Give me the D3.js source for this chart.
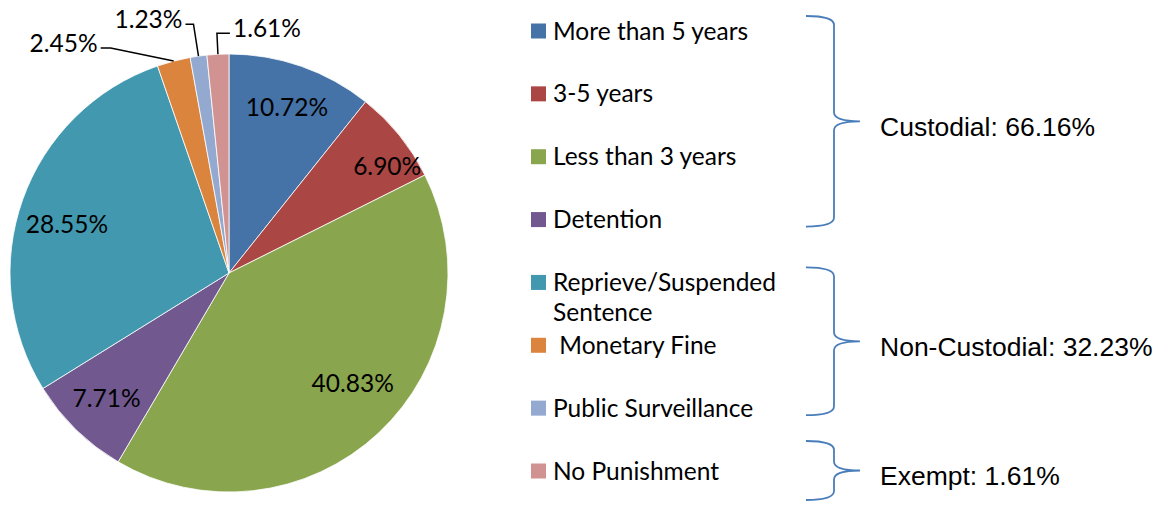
<!DOCTYPE html>
<html>
<head>
	<title>Sentences pie</title>
	<style>
		body { margin: 0; background: #fff; }
		.lbl { font-family: Lato, "Noto Sans", sans-serif; font-size: 24.5px; fill: #000; }
		.grp { font-family: "Liberation Sans", Arial, sans-serif; font-size: 26.5px; fill: #000; }
	</style>
</head>
<body>
	<svg id="canvas" width="1167" height="506"></svg>
	<script src="https://cdn.jsdelivr.net/npm/d3@7"></script>
	<script type="text/javascript">
		// data
		let categories = ["More than 5 years", "3-5 years", "Less than 3 years", "Detention",
			"Reprieve/Suspended Sentence", " Monetary Fine", "Public Surveillance", "No Punishment"];
		let values = [10.72, 6.90, 40.83, 7.71, 28.55, 2.45, 1.23, 1.61];
		let colors = ["#4572a7", "#aa4643", "#89a54e", "#71588f", "#4198af", "#db843d", "#93a9cf", "#d19392"];
		let groupNames = ["Custodial: 66.16%", "Non-Custodial: 32.23%", "Exempt: 1.61%"];
		let groupFirst = [0, 4, 7];
		let groupLast = [3, 6, 7];

		let svg = d3.select("#canvas");
		let cx = 229, cy = 273, radius = 219;

		let pie = d3.pie().sort(null).value(function(d){ return d; });
		let arc = d3.arc().innerRadius(0).outerRadius(radius);
		let labelArc = d3.arc().innerRadius(radius * 0.8).outerRadius(radius * 0.8);
		let arcs = pie(values);

		let g = svg.append("g")
			.attr("transform", "translate(" + cx + "," + cy + ")");

		g.selectAll("path.slice")
			.data(arcs)
			.enter()
			.append("path")
				.attr("class", "slice")
				.attr("d", arc)
				.attr("fill", function(d, i){ return colors[i]; })
				.attr("stroke", "#fff")
				.attr("stroke-width", 0.8);

		let fmt = function(v){ return v.toFixed(2) + "%"; };

		// labels inside big slices
		let inside = arcs.filter(function(d){ return d.data > 5; });
		g.selectAll("text.in")
			.data(inside)
			.enter()
			.append("text")
				.attr("class", "lbl")
				.attr("text-anchor", "middle")
				.attr("dy", "0.35em")
				.attr("transform", function(d){
					let c = labelArc.centroid(d);
					if (d.index == 1) { c[0] += 22; c[1] += 4; }
					if (d.index == 2) { c[0] += 4; c[1] -= 18; }
					if (d.index == 4) { c[0] += 3; c[1] += 10; }
					return "translate(" + c + ")";
				})
				.text(function(d){ return fmt(d.data); });

		// small slices: outside labels with leader lines
		let outside = arcs.filter(function(d){ return d.data <= 5; });
		// elbow offsets from the slice edge: dx, dy, then the short horizontal run
		let elbow = {5: [-63, -13, -10], 6: [-5, -32, -8], 7: [-1, -21, 13]};
		outside.forEach(function(d){
			let mid = (d.startAngle + d.endAngle) / 2;
			let ex = Math.sin(mid) * radius, ey = -Math.cos(mid) * radius;
			let e = elbow[d.index];
			let bx = ex + e[0], by = ey + e[1];
			let tx = bx + e[2];
			g.append("path")
				.attr("d", "M" + ex + "," + ey + "L" + bx + "," + by + "L" + tx + "," + by)
				.attr("fill", "none")
				.attr("stroke", "#000")
				.attr("stroke-width", 1.5);
			g.append("text")
				.attr("class", "lbl")
				.attr("x", tx + (e[2] < 0 ? -3 : 3))
				.attr("y", by - 5)
				.attr("dy", "0.35em")
				.attr("text-anchor", e[2] < 0 ? "end" : "start")
				.text(fmt(d.data));
		});

		// legend
		let ly = d3.scalePoint().domain(d3.range(categories.length)).range([31, 471]);
		let legend = svg.append("g").attr("transform", "translate(531,0)");
		let rows = legend.selectAll("g")
			.data(categories)
			.enter()
			.append("g")
				.attr("transform", function(d, i){ return "translate(0," + ly(i) + ")"; });
		rows.append("rect")
			.attr("x", 0).attr("y", -7.5)
			.attr("width", 15).attr("height", 15)
			.attr("fill", function(d, i){ return colors[i]; });
		rows.append("text")
			.attr("class", "lbl")
			.attr("x", 22)
			.style("white-space", "pre")
			.each(function(d){
				let t = d3.select(this);
				let parts = d.indexOf("/") > 0 ? [d.split(" ")[0], d.split(" ").slice(1).join(" ")] : [d];
				parts.forEach(function(p, k){
					t.append("tspan").attr("x", 22).attr("dy", k == 0 ? "0.35em" : "1.22em").text(p);
				});
			});

		// braces
		let x0 = 806, x1 = 834, x2 = 860;
		groupNames.forEach(function(name, k){
			let a = ly(groupFirst[k]), b = ly(groupLast[k]);
			let top, bot;
			if (a == b) { top = a - 30; bot = b + 29; }
			else { top = a - 15; bot = b + 7; }
			let mid = (top + bot) / 2;
			let p = "M" + x0 + "," + top +
				"Q" + x1 + "," + top + " " + x1 + "," + (top + 9) +
				"V" + (mid - 9) +
				"Q" + x1 + "," + mid + " " + x2 + "," + mid +
				"Q" + x1 + "," + mid + " " + x1 + "," + (mid + 9) +
				"V" + (bot - 9) +
				"Q" + x1 + "," + bot + " " + x0 + "," + bot;
			svg.append("path")
				.attr("d", p)
				.attr("fill", "none")
				.attr("stroke", "#4a7ebb")
				.attr("stroke-width", 1.8);
			svg.append("text")
				.attr("class", "grp")
				.attr("x", 880)
				.attr("y", mid + 5)
				.attr("dy", "0.35em")
				.text(name);
		});
	</script>
</body>
</html>
